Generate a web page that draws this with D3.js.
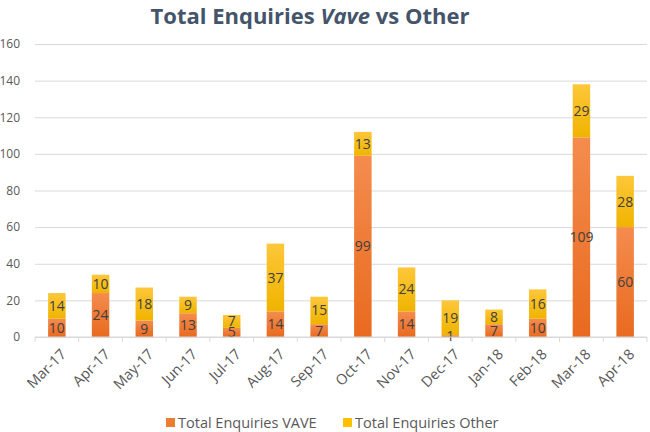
<!DOCTYPE html>
<html>
<head>
<meta charset="utf-8">
<script src="https://cdn.jsdelivr.net/npm/d3@7"></script>
<style>
  body { margin: 0; background: #fff; }
  svg { display: block; font-family: 'Open Sans', sans-serif; }
</style>
</head>
<body>
<div id="chart"></div>
<script>
const months = ['Mar-17', 'Apr-17', 'May-17', 'Jun-17', 'Jul-17', 'Aug-17', 'Sep-17',
  'Oct-17', 'Nov-17', 'Dec-17', 'Jan-18', 'Feb-18', 'Mar-18', 'Apr-18'];
const vave = [10, 24, 9, 13, 5, 14, 7, 99, 14, 1, 7, 10, 109, 60];
const other = [14, 10, 18, 9, 7, 37, 15, 13, 24, 19, 8, 16, 29, 28];
const seriesNames = ['Total Enquiries VAVE', 'Total Enquiries Other'];
const yTicks = [0, 20, 40, 60, 80, 100, 120, 140, 160];

const width = 650;
const height = 432;
const margin = { top: 44, right: 3, bottom: 95, left: 35 };
const plotWidth = width - margin.left - margin.right;
const plotHeight = height - margin.top - margin.bottom;

const svg = d3.select('#chart')
  .append('svg')
    .attr('width', width)
    .attr('height', height);

// gradients for the bar fills
const defs = svg.append('defs');
const gradients = [
  { id: 'gradVave', top: '#F48C4E', bottom: '#E96A1F' },
  { id: 'gradOther', top: '#FDC73A', bottom: '#EFB400' }
];
gradients.forEach((g) => {
  const lg = defs.append('linearGradient')
    .attr('id', g.id)
    .attr('x1', 0).attr('y1', 0)
    .attr('x2', 0).attr('y2', 1);
  lg.append('stop').attr('offset', '0%').attr('stop-color', g.top);
  lg.append('stop').attr('offset', '100%').attr('stop-color', g.bottom);
});

svg.append('text')
  .attr('x', 310)
  .attr('y', 24)
  .attr('text-anchor', 'middle')
  .attr('fill', '#44546A')
  .style('font-size', '22px')
  .style('font-weight', 'bold')
  .call((t) => {
    t.append('tspan').text('Total Enquiries ');
    t.append('tspan').style('font-style', 'italic').text('Vave');
    t.append('tspan').text(' vs Other');
  });

const g = svg.append('g')
  .attr('transform', 'translate(' + margin.left + ',' + margin.top + ')');

const x = d3.scaleBand()
  .domain(months)
  .range([0, plotWidth])
  .paddingInner(0.6)
  .paddingOuter(0.3);

const y = d3.scaleLinear()
  .domain([0, 160])
  .range([plotHeight, 0]);

// grid lines
g.append('g')
  .attr('class', 'grid-y')
  .call(d3.axisRight(y).tickValues(yTicks).tickFormat('').tickSize(plotWidth))
  .call((s) => s.select('.domain').remove())
  .call((s) => s.selectAll('line').attr('stroke', '#D9D9D9'));

// y axis labels
g.append('g')
  .attr('class', 'axis-y')
  .attr('transform', 'translate(-12,0)')
  .call(d3.axisLeft(y).tickValues(yTicks).tickSize(0))
  .call((s) => s.select('.domain').remove())
  .call((s) => s.selectAll('text')
    .attr('fill', '#595959')
    .style('font-size', '12px')
    .style('font-family', "'Open Sans', sans-serif"));

const stackData = months.map((m, i) => ({ month: m, vave: vave[i], other: other[i] }));
const stack = d3.stack().keys(['vave', 'other'])(stackData);
const fills = ['url(#gradVave)', 'url(#gradOther)'];

g.append('g')
  .attr('class', 'bars')
  .selectAll('g')
  .data(stack)
  .enter().append('g')
    .attr('fill', (d, i) => fills[i])
  .selectAll('rect')
  .data((d) => d)
  .enter().append('rect')
    .attr('x', (d) => x(d.data.month))
    .attr('y', (d) => y(d[1]))
    .attr('width', x.bandwidth())
    .attr('height', (d) => y(d[0]) - y(d[1]));

// data labels drawn after all bars
g.append('g')
  .attr('class', 'labels')
  .selectAll('g')
  .data(stack)
  .enter().append('g')
  .selectAll('text')
  .data((d) => d)
  .enter().append('text')
    .attr('x', (d) => x(d.data.month) + x.bandwidth() / 2)
    .attr('y', (d) => (y(d[0]) + y(d[1])) / 2)
    .attr('dy', '0.36em')
    .attr('text-anchor', 'middle')
    .attr('fill', '#404040')
    .style('font-size', '14px')
    .text((d) => d[1] - d[0]);

// x axis with ticks at category boundaries
const boundaries = d3.range(months.length + 1).map((i) => x.step() * (i) + (x.paddingOuter() * x.step()) - x.step() * x.paddingInner() / 2);
const xAxisG = g.append('g')
  .attr('class', 'axis-x')
  .attr('transform', 'translate(0,' + plotHeight + ')');

xAxisG.append('line')
  .attr('x1', 0)
  .attr('x2', plotWidth)
  .attr('stroke', '#D9D9D9');

xAxisG.selectAll('line.tick-mark')
  .data(boundaries)
  .enter().append('line')
    .attr('class', 'tick-mark')
    .attr('x1', (d) => d)
    .attr('x2', (d) => d)
    .attr('y1', 0)
    .attr('y2', 5)
    .attr('stroke', '#D9D9D9');

xAxisG.selectAll('text')
  .data(months)
  .enter().append('text')
    .attr('transform', (d) => 'translate(' + (x(d) + x.bandwidth() / 2 + 3) + ',11) rotate(-45)')
    .attr('text-anchor', 'end')
    .attr('dy', '0.7em')
    .attr('fill', '#595959')
    .style('font-size', '14.5px')
    .text((d) => d);

// legend
const legendItems = [
  { name: seriesNames[0], x: 166, fill: '#ED7D31' },
  { name: seriesNames[1], x: 343, fill: '#FFC000' }
];
const legend = svg.append('g')
  .attr('class', 'legend')
  .selectAll('g')
  .data(legendItems)
  .enter().append('g')
    .attr('transform', (d) => 'translate(' + d.x + ',418)');

legend.append('rect')
  .attr('width', 9)
  .attr('height', 9)
  .attr('fill', (d) => d.fill);

legend.append('text')
  .attr('x', 12)
  .attr('y', 9.5)
  .attr('fill', '#595959')
  .style('font-size', '14.5px')
  .text((d) => d.name);
</script>
</body>
</html>
